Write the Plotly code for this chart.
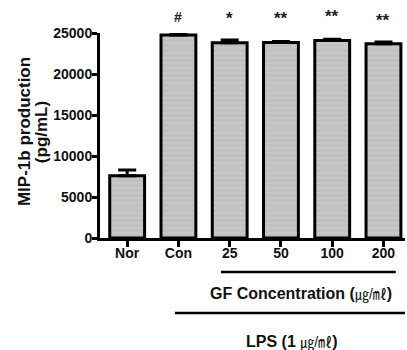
import plotly.graph_objects as go

categories = ["Nor", "Con", "25", "50", "100", "200"]
values = [7600, 24750, 23800, 23850, 24100, 23700]
errors = [700, 150, 350, 120, 150, 200]
marks = ["", "#", "*", "**", "**", "**"]
y_ticks = [0, 5000, 10000, 15000, 20000, 25000]

x = list(range(len(categories)))
FONT = "Liberation Sans, Arial, Noto Sans CJK KR, sans-serif"

fig = go.Figure()
fig.add_trace(go.Bar(
    x=x, y=values, width=0.68,
    marker=dict(color="#c2c2c2", line=dict(color="black", width=3),
                pattern=dict(shape="-", fgcolor="#b4b4b4", bgcolor="#c6c6c6",
                             size=5, solidity=0.35)),
    error_y=dict(type="data", symmetric=False, array=errors,
                 arrayminus=[0] * len(errors), color="black", thickness=3, width=9),
    showlegend=False,
))

mark_offsets = [0, 0, 0, 0, 0.01, -0.01]
for xi, m, off in zip(x, marks, mark_offsets):
    if m:
        size = 14 if m == "#" else 17
        yy = 1.08 if m == "#" else 1.07
        fig.add_annotation(xref="x", yref="paper", x=xi, y=yy + off, text="<b>%s</b>" % m,
                           showarrow=False, xanchor="center", yanchor="middle",
                           font=dict(family=FONT, size=size, color="#222"))

fig.update_layout(
    width=407, height=350,
    margin=dict(l=100, r=2, t=33, b=112),
    plot_bgcolor="white", paper_bgcolor="white",
    font=dict(family=FONT, color="black"),
)
fig.update_xaxes(
    range=[-0.53, 5.42], tickvals=x, ticktext=["<b>%s</b>" % c for c in categories],
    showline=True, linecolor="black", linewidth=3, ticks="outside", ticklen=6,
    tickwidth=3, tickcolor="black", showgrid=False, zeroline=False,
    tickfont=dict(family=FONT, size=14, color="#111"), ticklabelstandoff=-6,
)
fig.update_yaxes(
    range=[0, 25000], tickvals=y_ticks, ticktext=["<b>%d</b>" % t for t in y_ticks],
    showline=True, linecolor="black", linewidth=3, ticks="outside", ticklen=5,
    tickwidth=3, tickcolor="black", showgrid=False, zeroline=False,
    tickfont=dict(family=FONT, size=14, color="#111"), ticklabelstandoff=-3,
)

fig.add_annotation(xref="paper", yref="paper", x=-0.249, y=0.517,
                   text="<b>MIP-1b production</b>", textangle=-90,
                   xanchor="center", yanchor="middle",
                   showarrow=False, font=dict(family=FONT, size=17, color="#111"))
fig.add_annotation(xref="paper", yref="paper", x=-0.193, y=0.517,
                   text="<b>(pg/mL)</b>", textangle=-90,
                   xanchor="center", yanchor="middle",
                   showarrow=False, font=dict(family=FONT, size=17, color="#111"))

fig.add_shape(type="line", xref="x", yref="paper", x0=1.83, x1=5.24, y0=-0.166, y1=-0.166,
              line=dict(color="black", width=2.5))
fig.add_shape(type="line", xref="x", yref="paper", x0=0.93, x1=5.5, y0=-0.366, y1=-0.366,
              line=dict(color="black", width=2.5))
fig.add_annotation(xref="x", yref="paper", x=3.39, y=-0.273, xanchor="center", yanchor="middle",
                   text="<b>GF Concentration (</b><span style='font-size:14px'>㎍/㎖</span><b>)</b>",
                   showarrow=False, font=dict(family=FONT, size=16, color="#111"))
fig.add_annotation(xref="x", yref="paper", x=3.21, y=-0.507, xanchor="center", yanchor="middle",
                   text="<b>LPS (1 </b><span style='font-size:14px'>㎍/㎖</span><b>)</b>",
                   showarrow=False, font=dict(family=FONT, size=16, color="#111"))

fig.write_html("out.html", config={"displayModeBar": False},
               post_script="document.body.style.margin='0';")
